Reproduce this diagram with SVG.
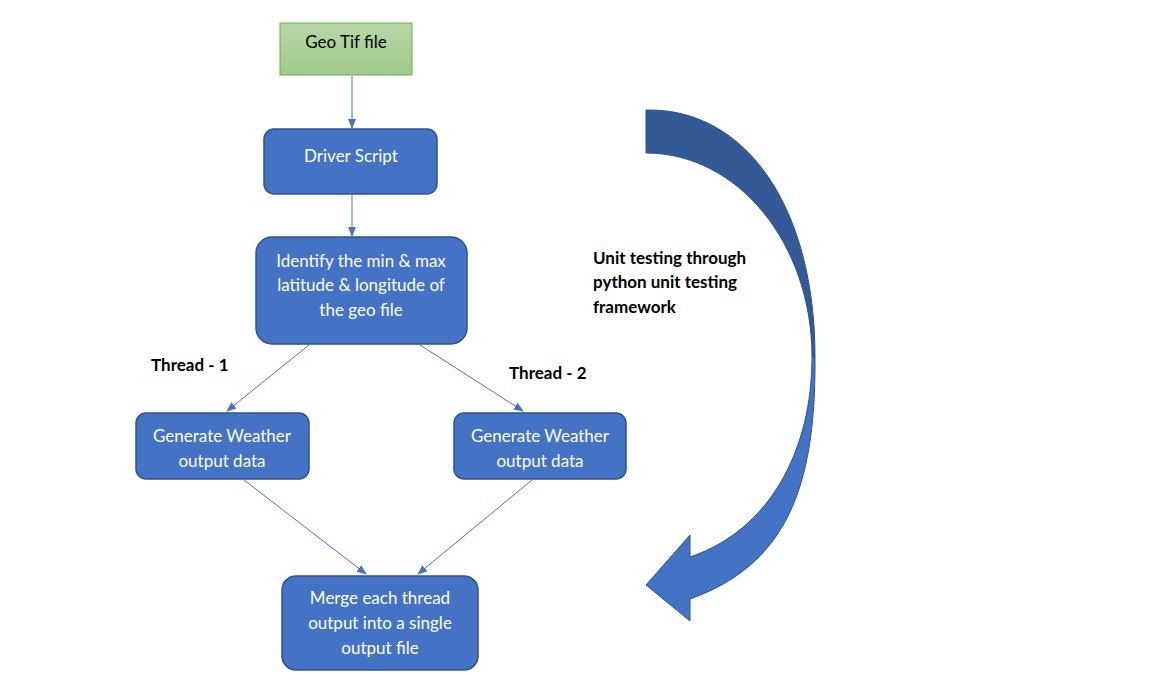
<svg xmlns="http://www.w3.org/2000/svg" width="1152" height="686" viewBox="0 0 1152 686">
<defs>
<linearGradient id="green" x1="0" y1="0" x2="0" y2="1">
<stop offset="0" stop-color="#b6d7a8"/>
<stop offset="1" stop-color="#a2ca8b"/>
</linearGradient>
<marker id="ah" markerWidth="10" markerHeight="10" refX="9" refY="5" orient="auto" markerUnits="userSpaceOnUse">
<path d="M0,1 L10,5 L0,9 Z" fill="#4472c4"/>
</marker>
<style>
.box{fill:#4472c4;stroke:#2f528f;stroke-width:1.5}
.t{font-family:Lato,"Liberation Sans",sans-serif;font-size:17px;fill:#ffffff;text-anchor:middle}
.lbl{font-family:Lato,"Liberation Sans",sans-serif;font-size:17px;font-weight:bold;fill:#000000}
.c{stroke:#4472c4;stroke-width:1;fill:none;marker-end:url(#ah)}
</style>
</defs>
<rect width="1152" height="686" fill="#ffffff"/>

<g id="connectors">
<line class="c" x1="352" y1="76" x2="352" y2="128"/>
<line class="c" x1="352" y1="195" x2="352" y2="236"/>
<line class="c" x1="309" y1="345" x2="227" y2="411"/>
<line class="c" x1="420" y1="345" x2="523" y2="411"/>
<line class="c" x1="244" y1="480" x2="366" y2="574"/>
<line class="c" x1="532" y1="480" x2="418" y2="574"/>
</g>

<g id="geotif">
<rect x="280" y="23" width="132" height="52" fill="url(#green)" stroke="#70ad47" stroke-width="1"/>
<text x="346" y="48" class="t" style="fill:#000000">Geo Tif file</text>
</g>

<g id="driver">
<rect class="box" x="264" y="129" width="173" height="65" rx="10"/>
<text x="351" y="162" class="t">Driver Script</text>
</g>

<g id="identify">
<rect class="box" x="256" y="237" width="211" height="107" rx="16"/>
<text x="361" y="267" class="t">Identify the min &amp; max</text>
<text x="361" y="291" class="t">latitude &amp; longitude of</text>
<text x="361" y="316" class="t">the geo file</text>
</g>

<g id="gen1">
<rect class="box" x="136" y="413" width="173" height="66" rx="10"/>
<text x="222" y="442" class="t">Generate Weather</text>
<text x="222" y="467" class="t">output data</text>
</g>

<g id="gen2">
<rect class="box" x="454" y="413" width="172" height="66" rx="10"/>
<text x="540" y="442" class="t">Generate Weather</text>
<text x="540" y="467" class="t">output data</text>
</g>

<g id="merge">
<rect class="box" x="282" y="576" width="196" height="94" rx="14"/>
<text x="380" y="604" class="t">Merge each thread</text>
<text x="380" y="629" class="t">output into a single</text>
<text x="380" y="654" class="t">output file</text>
</g>

<g id="labels">
<text x="151" y="371" class="lbl">Thread - 1</text>
<text x="509" y="379" class="lbl">Thread - 2</text>
<text x="593" y="264" class="lbl">Unit testing through</text>
<text x="593" y="288" class="lbl">python unit testing</text>
<text x="593" y="313" class="lbl">framework</text>
</g>

<g id="curved-arrow">
<path d="M646,110 C748,108 815,210 815,357 L812,357 C812,244 738,153 646,153 Z" fill="#335a96" stroke="#2f528f" stroke-width="1"/>
<path d="M815,357 C816,490 785,565 690,599 L690,621 L646,585 L690,535 L690,557 C770,530 812,450 812,357 Z" fill="#4472c4" stroke="#2f528f" stroke-width="1"/>
</g>
</svg>
